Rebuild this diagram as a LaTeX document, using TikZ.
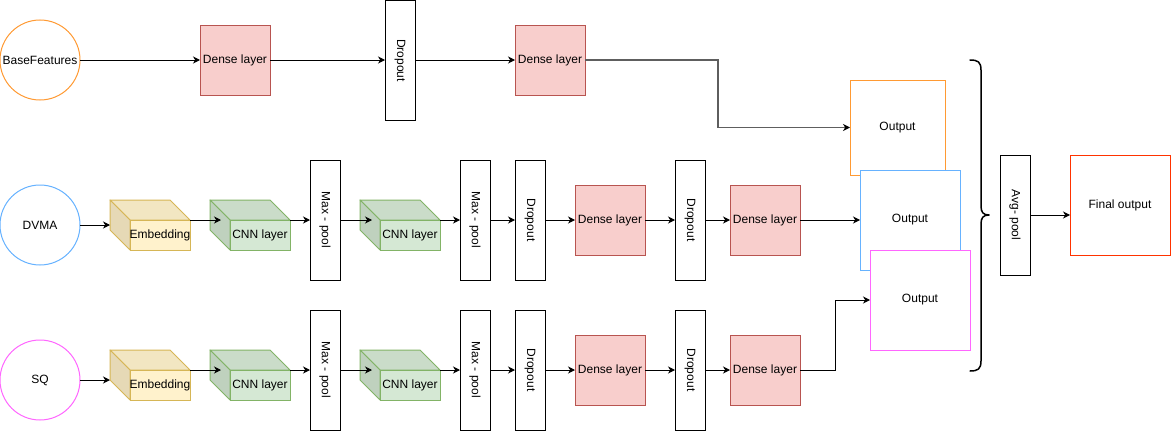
\documentclass[tikz,border=0pt]{standalone}
\usepackage{fontspec}
\setmainfont{Liberation Sans}
\usepackage{graphicx}
\usetikzlibrary{arrows.meta,calc}
\definecolor{densefill}{HTML}{F8CECC}
\definecolor{densedraw}{HTML}{B85450}
\definecolor{embfront}{HTML}{FFF2CC}
\definecolor{embtop}{HTML}{F2E6C2}
\definecolor{embside}{HTML}{E6D9B6}
\definecolor{embdraw}{HTML}{D6B656}
\definecolor{cnnfront}{HTML}{D5E8D4}
\definecolor{cnntop}{HTML}{CADCC9}
\definecolor{cnnside}{HTML}{BFD1BE}
\definecolor{cnndraw}{HTML}{82B366}
\definecolor{orangec}{HTML}{FF9A33}
\definecolor{bluec}{HTML}{66B2FF}
\definecolor{magc}{HTML}{FF66FF}
\definecolor{redc}{HTML}{FF3300}
\definecolor{greyc}{HTML}{5E5E5E}
\tikzset{
  every node/.style={inner sep=0pt, outer sep=0pt, align=center},
  inputc/.style={circle, draw, line width=1pt, fill=white, minimum size=80pt},
  dense/.style={rectangle, draw=densedraw, fill=densefill, line width=1pt, minimum width=70pt, minimum height=70pt},
  vbox/.style={rectangle, draw=black, fill=white, line width=1pt, minimum width=30pt, minimum height=120pt},
  outbox/.style={rectangle, draw, fill=white, line width=1pt, minimum width=100pt, minimum height=100pt},
  cubebb/.style={rectangle, minimum width=80pt, minimum height=50pt},
  conn/.style={draw=black, line width=1pt, -{Stealth[length=7pt,width=7pt,inset=2.2pt]}},
  gconn/.style={draw=greyc, line width=1.7pt, -{Stealth[length=7pt,width=7pt,inset=2.2pt,color=black]}},
}
\newcommand{\nncube}[7]{%
  \node[cubebb] (#1) at #2 {};
  \path[draw=#7, line width=1pt, fill=#5, line join=round] (#1.north west) -- ++(60,0) -- ++(20,20) -- ++(-60,0) -- cycle;
  \path[draw=#7, line width=1pt, fill=#6, line join=round] (#1.north west) -- ++(20,20) -- ++(0,30) -- ++(-20,-20) -- cycle;
  \path[draw=#7, line width=1pt, fill=#4] ($(#1.north west)+(20,20)$) rectangle (#1.south east);
  \node (#1-t) at ($(#1.south east)+(-30,-15)$) {#3};
}
\begin{document}
\begin{tikzpicture}[x=1pt, y=-1pt, font=\fontsize{12}{14}\selectfont]
\useasboundingbox (0,0) rectangle (1171,431);

% ---------- row 1 ----------
\node[inputc, draw=orangec] (bf) at (40,60) {BaseFeatures};
\node[dense] (d11) at (235,60) {Dense layer};
\node[vbox] (dr1) at (400,60.5) {\rotatebox{-90}{Dropout}};
\node[dense] (d12) at (550,60) {Dense layer};

% ---------- outputs ----------
\node[outbox, draw=orangec, minimum width=95pt, minimum height=95pt] (out1) at (897.5,127.5) {Output};
\node[outbox, draw=bluec] (out2) at (910,220) {Output};
\node[outbox, draw=magc] (out3) at (920,300) {Output};

% ---------- row 2 ----------
\node[inputc, draw=bluec] (dvma) at (40,225) {DVMA};
\nncube{emb2}{(150,225)}{Embedding}{embfront}{embtop}{embside}{embdraw}
\nncube{cnn21}{(250,225)}{CNN layer}{cnnfront}{cnntop}{cnnside}{cnndraw}
\node[vbox] (mp21) at (325,220) {\rotatebox{-90}{Max - pool}};
\nncube{cnn22}{(400,225)}{CNN layer}{cnnfront}{cnntop}{cnnside}{cnndraw}
\node[vbox] (mp22) at (475,220) {\rotatebox{-90}{Max - pool}};
\node[vbox] (dr21) at (530,220) {\rotatebox{-90}{Dropout}};
\node[dense] (d21) at (610,220) {Dense layer};
\node[vbox] (dr22) at (690,220) {\rotatebox{-90}{Dropout}};
\node[dense] (d22) at (765,220) {Dense layer};

% ---------- row 3 ----------
\node[inputc, draw=magc] (sq) at (40,380) {SQ};
\nncube{emb3}{(150,375)}{Embedding}{embfront}{embtop}{embside}{embdraw}
\nncube{cnn31}{(250,375)}{CNN layer}{cnnfront}{cnntop}{cnnside}{cnndraw}
\node[vbox] (mp31) at (325,370) {\rotatebox{-90}{Max - pool}};
\nncube{cnn32}{(400,375)}{CNN layer}{cnnfront}{cnntop}{cnnside}{cnndraw}
\node[vbox] (mp32) at (475,370) {\rotatebox{-90}{Max - pool}};
\node[vbox] (dr31) at (530,370) {\rotatebox{-90}{Dropout}};
\node[dense] (d31) at (610,370) {Dense layer};
\node[vbox] (dr32) at (690,370) {\rotatebox{-90}{Dropout}};
\node[dense] (d32) at (765,370) {Dense layer};

% ---------- right part ----------
\node[vbox] (avg) at (1015,215) {\rotatebox{-90}{Avg- pool}};
\node[outbox, draw=redc] (fin) at (1120,205) {Final output};

% brace
\draw[line width=1.5pt, line cap=round, line join=round]
  (970,60) .. controls (978,60) and (981,62) .. (981,70) -- (981,206)
  .. controls (981,212) and (983,215) .. (989,215)
  .. controls (983,215) and (981,218) .. (981,224) -- (981,361)
  .. controls (981,369) and (978,371) .. (970,371);

% ---------- connectors row 1 ----------
\draw[conn] (bf.east) -- (d11.west);
\draw[conn] (d11.east) -- (d11.east -| dr1.west);
\draw[conn] (d12.west -| dr1.east) -- (d12.west);
\draw[gconn] (d12.east) -- ++(133,0) |- (out1.west);

% ---------- connectors row 2 ----------
\draw[conn] (dvma.east) -- (emb2.west);
\draw[conn] ($(emb2.north east)+(0,20)$) -- ($(cnn21.north west)+(11,20)$);
\draw[conn] ($(cnn21.north east)+(0,20)$) -- (mp21.west);
\draw[conn] (mp21.east) -- ($(cnn22.north west)+(12,20)$);
\draw[conn] ($(cnn22.north east)+(0,20)$) -- (mp22.west);
\draw[conn] (mp22.east) -- (dr21.west);
\draw[conn] (dr21.east) -- (d21.west);
\draw[conn] (d21.east) -- (dr22.west);
\draw[conn] (dr22.east) -- (d22.west);
\draw[conn] (d22.east) -- (out2.west);

% ---------- connectors row 3 ----------
\draw[conn] (sq.east) -- (sq.east -| emb3.west);
\draw[conn] ($(emb3.north east)+(0,20)$) -- ($(cnn31.north west)+(11,20)$);
\draw[conn] ($(cnn31.north east)+(0,20)$) -- (mp31.west);
\draw[conn] (mp31.east) -- ($(cnn32.north west)+(12,20)$);
\draw[conn] ($(cnn32.north east)+(0,20)$) -- (mp32.west);
\draw[conn] (mp32.east) -- (dr31.west);
\draw[conn] (dr31.east) -- (d31.west);
\draw[conn] (d31.east) -- (dr32.west);
\draw[conn] (dr32.east) -- (d32.west);
\draw[conn] (d32.east) -- ++(35,0) |- (out3.west);

% ---------- final ----------
\draw[conn] (avg.east) -- (avg.east -| fin.west);
\end{tikzpicture}
\end{document}
